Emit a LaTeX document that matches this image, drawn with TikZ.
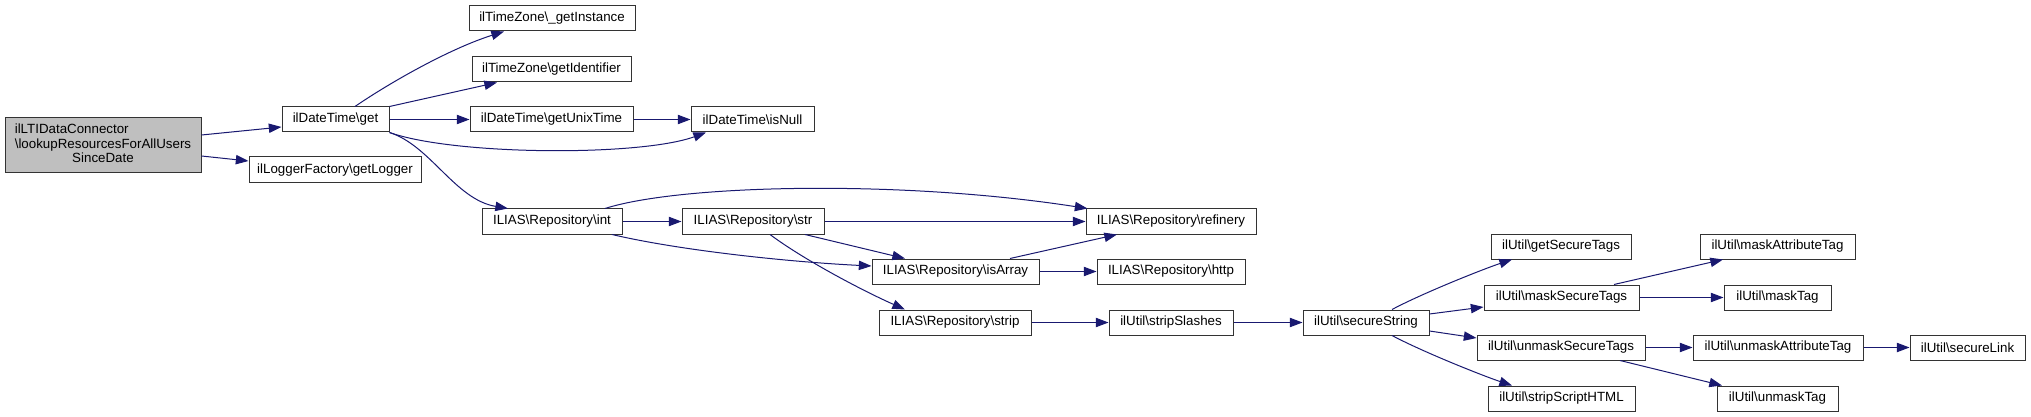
\documentclass[tikz,border=0pt]{standalone}
\usepackage{fontspec}
\setmainfont{Liberation Sans}
\usepackage{tikz}
\usetikzlibrary{arrows.meta, calc}
\definecolor{edgeblue}{HTML}{191970}
\definecolor{rootgray}{HTML}{BFBFBF}
\tikzset{>={Triangle[length=9.5pt, width=7pt]}}
\tikzset{
    funcbox/.style={draw=black!80, line width=.75pt, fill=white, inner sep=0pt, font=\fontsize{10}{10.9}\selectfont},
    call/.style={->, draw=edgeblue, line width=.75pt}
}
% #2..#5: box corners in pixels (left, top, right, bottom)
\newcommand{\fnbox}[7][]{
	\node[funcbox, #1, minimum width={(#5-#3)*.75pt}, minimum height={(#6-#4)*.75pt}](#2) at ({(#3+#5)/2}, {(#4+#6)/2}){#7}
}
\newcommand{\bs}{\textbackslash}

\begin{document}
\begin{tikzpicture}[x=.75pt, y=-.75pt]
    \useasboundingbox (0, 0) rectangle (2031, 417);
    \fnbox[fill=rootgray]{root}{5}{118}{201}{173}{\begin{tabular}{@{}l@{}}ilLTIDataConnector\\ \bs lookupResourcesForAllUsers\\ \multicolumn{1}{@{}c@{}}{SinceDate}\end{tabular}};
    \fnbox{get}{282}{107}{389}{132}{ilDateTime\bs get};
    \fnbox{logger}{249}{157}{421}{183}{ilLoggerFactory\bs getLogger};
    \fnbox{tzinst}{469}{6}{635}{31}{ilTimeZone\bs\_getInstance};
    \fnbox{tzident}{472}{57}{631}{82}{ilTimeZone\bs getIdentifier};
    \fnbox{unixtime}{470}{107}{633}{132}{ilDateTime\bs getUnixTime};
    \fnbox{isnull}{691}{107}{814}{132}{ilDateTime\bs isNull};
    \fnbox{repint}{482}{209}{622}{234}{ILIAS\bs Repository\bs int};
    \fnbox{repstr}{682}{209}{824}{234}{ILIAS\bs Repository\bs str};
    \fnbox{refinery}{1086}{209}{1256}{234}{ILIAS\bs Repository\bs refinery};
    \fnbox{isarray}{872}{259}{1039}{284}{ILIAS\bs Repository\bs isArray};
    \fnbox{http}{1097}{259}{1245}{284}{ILIAS\bs Repository\bs http};
    \fnbox{repstrip}{879}{310}{1031}{335}{ILIAS\bs Repository\bs strip};
    \fnbox{stripslashes}{1109}{310}{1233}{335}{ilUtil\bs stripSlashes};
    \fnbox{securestring}{1303}{310}{1429}{335}{ilUtil\bs secureString};
    \fnbox{getsecuretags}{1491}{234}{1631}{259}{ilUtil\bs getSecureTags};
    \fnbox{masksecuretags}{1484}{285}{1639}{310}{ilUtil\bs maskSecureTags};
    \fnbox{unmasksecuretags}{1477}{335}{1645}{360}{ilUtil\bs unmaskSecureTags};
    \fnbox{stripscript}{1488}{386}{1635}{411}{ilUtil\bs stripScriptHTML};
    \fnbox{maskattr}{1700}{234}{1855}{259}{ilUtil\bs maskAttributeTag};
    \fnbox{masktag}{1724}{285}{1831}{310}{ilUtil\bs maskTag};
    \fnbox{unmaskattr}{1693}{335}{1863}{360}{ilUtil\bs unmaskAttributeTag};
    \fnbox{securelink}{1910}{335}{2025}{360}{ilUtil\bs secureLink};
    \fnbox{unmasktag}{1717}{386}{1838}{411}{ilUtil\bs unmaskTag};

    \draw[call]($(root.east)+(0, -10.5)$)--($(get.west)+(0, 7.5)$);
    \draw[call]($(root.east)+(0, 10.5)$)--($(logger.west)+(0, -9)$);
    \draw[call]($(get.north)+(19.5, 0)$)..controls +(35, -24) and +(-54, 17)..($(tzinst.south)+(-48, 0)$);
    \draw[call](get.north east)--($(tzident.south)+(-54.5, 0)$);
    \draw[call](get.east)--(unixtime.west);
    \draw[call](unixtime.east)--(isnull.west);
    \draw[call](get.south east)..controls +(65, 23) and +(-66, 24)..($(isnull.south)+(-46.5, 0)$);
    \draw[call](get.south east)..controls +(41, 13) and +(-53, -9)..($(repint.north)+(-44, 0)$);
    \draw[call](repint.east)--(repstr.west);
    \draw[call]($(repint.north)+(53, 0)$)..controls +(75, -24) and +(-187, -29)..($(refinery.north west)+(2, 0)$);
    \draw[call]($(repint.south)+(60, 0)$)..controls +(68, 16) and +(-82, -4)..($(isarray.west)+(0, -5.5)$);
    \draw[call](repstr.east)--(refinery.west);
    \draw[call]($(repstr.south)+(52, 0)$)--($(isarray.north)+(-50.5, 0)$);
    \draw[call]($(repstr.south)+(17, 0)$)..controls +(32, 24) and +(-45, -20)..($(repstrip.north)+(-50, 0)$);
    \draw[call]($(isarray.north)+(54.5, 0)$)--($(refinery.south)+(-54, 0)$);
    \draw[call](isarray.east)--(http.west);
    \draw[call](repstrip.east)--(stripslashes.west);
    \draw[call](stripslashes.east)--(securestring.west);
    \draw[call]($(securestring.north)+(26, 0)$)..controls +(30, -16) and +(-30, 10)..($(getsecuretags.south)+(-49, 0)$);
    \draw[call]($(securestring.east)+(0, -8.5)$)--($(masksecuretags.west)+(0, 9.5)$);
    \draw[call]($(securestring.east)+(0, 8.5)$)--($(unmasksecuretags.west)+(0, -9.5)$);
    \draw[call]($(securestring.south)+(26, 0)$)..controls +(30, 16) and +(-30, -10)..($(stripscript.north)+(-49.5, 0)$);
    \draw[call]($(masksecuretags.north)+(52.5, 0)$)--($(maskattr.south)+(-54.5, 0)$);
    \draw[call](masksecuretags.east)--(masktag.west);
    \draw[call](unmasksecuretags.east)--(unmaskattr.west);
    \draw[call](unmaskattr.east)--(securelink.west);
    \draw[call]($(unmasksecuretags.south)+(59, 0)$)--($(unmasktag.north)+(-55.5, 0)$);
\end{tikzpicture}
\end{document}
